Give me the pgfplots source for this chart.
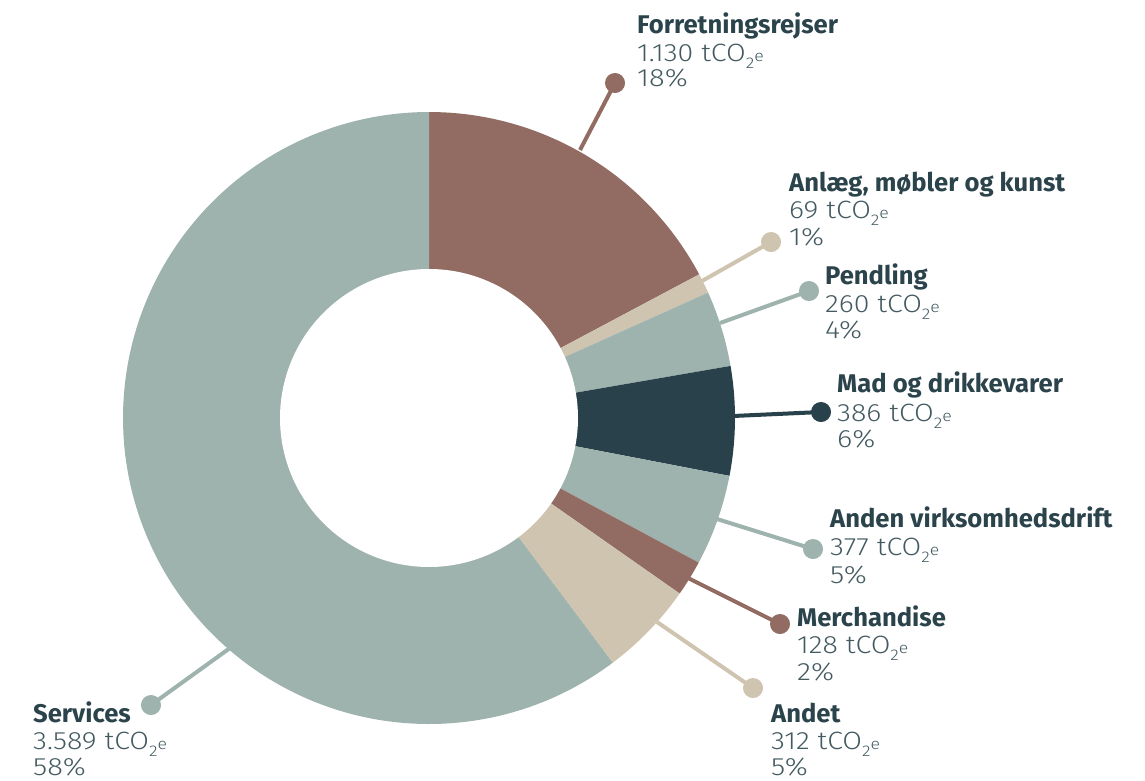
\documentclass[border=0pt]{standalone}
\usepackage{graphicx}
\usepackage{pgfplots}
\pgfplotsset{compat=1.18}
\usepackage{fontspec}
\setmainfont{Fira Sans}
\newfontfamily\lightfont{Fira Sans Light}
\definecolor{cBrown}{HTML}{926C62}
\definecolor{cBeige}{HTML}{CFC4B0}
\definecolor{cSage}{HTML}{9EB2AE}
\definecolor{cDark}{HTML}{28414A}
\definecolor{cTitle}{HTML}{2B434B}
\definecolor{cVal}{HTML}{435A61}
\newcommand{\tco}{tCO\raisebox{-7.5pt}{\fontsize{15.5}{15}\selectfont 2}\raisebox{-0.5pt}{\fontsize{15.5}{15}\selectfont e}}
\newcommand{\lab}[7]{%
  \node[anchor=base west, inner sep=0pt, text=cTitle, font=\fontsize{25.6}{27}\selectfont\bfseries] at (axis cs:#1,#2) {#5};
  \node[anchor=base west, inner sep=0pt, text=cVal, font=\fontsize{25}{27}\selectfont\lightfont] at (axis cs:#1,#3) {\scalebox{1.14}[1]{#6 \tco}};
  \node[anchor=base west, inner sep=0pt, text=cVal, font=\fontsize{25}{27}\selectfont\lightfont] at (axis cs:#1,#4) {\scalebox{1.16}[1]{#7}};
}
\begin{document}
\begin{tikzpicture}
\begin{axis}[scale only axis, width=1145pt, height=780pt,
  xmin=0, xmax=1145, ymin=0, ymax=780, y dir=reverse,
  hide axis, clip=false]
% wedges: angular spans in degrees (math angle); centre (429,418), outer radius 306
\addplot[fill=cBrown, draw=none, domain=28:90, samples=80] ({429+306*cos(x)},{418-306*sin(x)}) -- (axis cs:429,418) -- cycle;
\addplot[fill=cBeige, draw=none, domain=24.2:28, samples=10] ({429+306*cos(x)},{418-306*sin(x)}) -- (axis cs:429,418) -- cycle;
\addplot[fill=cSage, draw=none, domain=9.8:24.2, samples=30] ({429+306*cos(x)},{418-306*sin(x)}) -- (axis cs:429,418) -- cycle;
\addplot[fill=cDark, draw=none, domain=-10.9:9.8, samples=40] ({429+306*cos(x)},{418-306*sin(x)}) -- (axis cs:429,418) -- cycle;
\addplot[fill=cSage, draw=none, domain=-28.2:-10.9, samples=30] ({429+306*cos(x)},{418-306*sin(x)}) -- (axis cs:429,418) -- cycle;
\addplot[fill=cBrown, draw=none, domain=-35:-28.2, samples=15] ({429+306*cos(x)},{418-306*sin(x)}) -- (axis cs:429,418) -- cycle;
\addplot[fill=cBeige, draw=none, domain=-53.1:-35, samples=30] ({429+306*cos(x)},{418-306*sin(x)}) -- (axis cs:429,418) -- cycle;
\addplot[fill=cSage, draw=none, domain=-270:-53.1, samples=200] ({429+306*cos(x)},{418-306*sin(x)}) -- (axis cs:429,418) -- cycle;
% hole
\addplot[fill=white, draw=none, domain=0:360, samples=200] ({429+149*cos(x)},{418-149*sin(x)}) -- cycle;
% leader lines
\addplot[cBrown, line width=4pt, mark=*, mark size=9.5pt, mark indices={2}, mark options={line width=1pt}] coordinates {(580,150) (615,83)};
\addplot[cBeige, line width=4pt, mark=*, mark size=9.5pt, mark indices={2}, mark options={line width=1pt}] coordinates {(702,281) (771,242)};
\addplot[cSage, line width=4pt, mark=*, mark size=9.5pt, mark indices={2}, mark options={line width=1pt}] coordinates {(720,323) (809,291)};
\addplot[cDark, line width=4pt, mark=*, mark size=9.5pt, mark indices={2}, mark options={line width=1pt}] coordinates {(733,416) (821,412)};
\addplot[cSage, line width=4pt, mark=*, mark size=9.5pt, mark indices={2}, mark options={line width=1pt}] coordinates {(717,519) (813,549)};
\addplot[cBrown, line width=4pt, mark=*, mark size=9.5pt, mark indices={2}, mark options={line width=1pt}] coordinates {(688,578) (780,624)};
\addplot[cBeige, line width=4pt, mark=*, mark size=9.5pt, mark indices={2}, mark options={line width=1pt}] coordinates {(657,622) (753,688)};
\addplot[cSage, line width=4pt, mark=*, mark size=9.5pt, mark indices={2}, mark options={line width=1pt}] coordinates {(230,648) (151,705)};
% labels
\lab{637}{33}{61}{86}{Forretningsrejser}{1.130}{18\%}
\lab{789}{191}{218}{245}{Anlæg, møbler og kunst}{69}{1\%}
\lab{825}{284}{312}{338}{Pendling}{260}{4\%}
\lab{837}{392}{421}{447}{Mad og drikkevarer}{386}{6\%}
\lab{830}{527}{555}{583}{Anden virksomhedsdrift}{377}{5\%}
\lab{797}{626}{653}{680}{Merchandise}{128}{2\%}
\lab{771}{722}{749}{775}{Andet}{312}{5\%}
\lab{33}{722}{749}{775}{Services}{3.589}{58\%}
\end{axis}
\pgfresetboundingbox
\useasboundingbox (current axis.south west) rectangle (current axis.north east);
\end{tikzpicture}
\end{document}
